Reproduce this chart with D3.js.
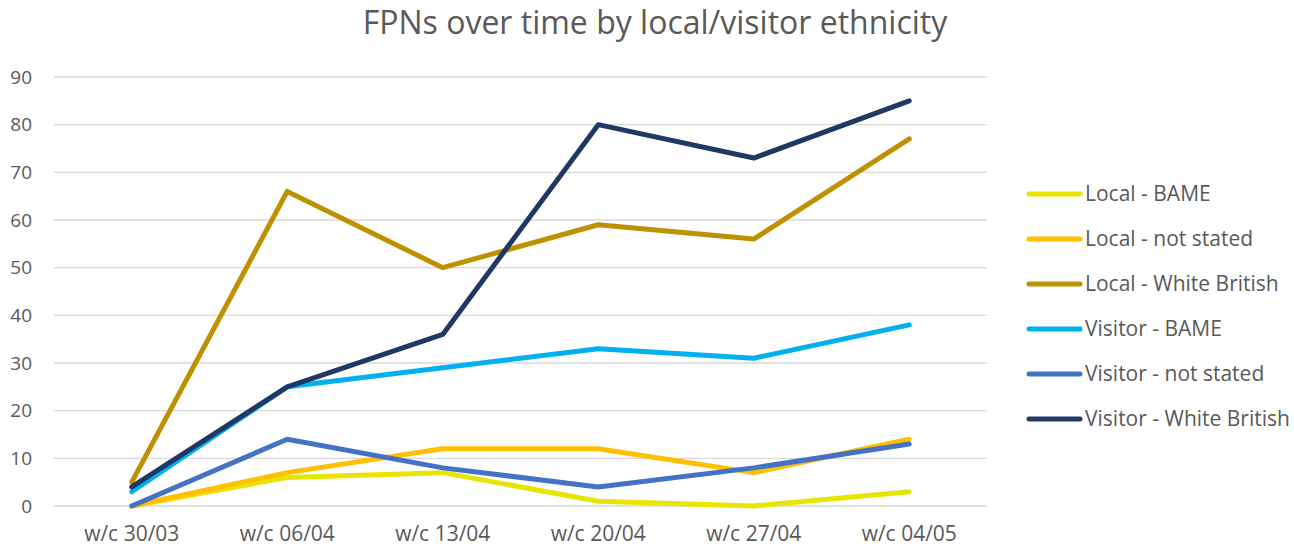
<!DOCTYPE html>
<html lang="en">
<head>
<meta charset="UTF-8">
<title>FPNs over time</title>
<script src="https://d3js.org/d3.v7.min.js"></script>
<style>
  body { margin: 0; background: #fff; }
  text { font-family: "Open Sans", sans-serif; fill: #595959; }
</style>
</head>
<body>
<div id="chart"></div>
<script>
// chart data
var weeks = ["w/c 30/03", "w/c 06/04", "w/c 13/04", "w/c 20/04", "w/c 27/04", "w/c 04/05"];
var seriesNames = ["Local - BAME", "Local - not stated", "Local - White British",
                   "Visitor - BAME", "Visitor - not stated", "Visitor - White British"];
var localBame = [0, 6, 7, 1, 0, 3];
var localNotStated = [0, 7, 12, 12, 7, 14];
var localWhiteBritish = [5, 66, 50, 59, 56, 77];
var visitorBame = [3, 25, 29, 33, 31, 38];
var visitorNotStated = [0, 14, 8, 4, 8, 13];
var visitorWhiteBritish = [4, 25, 36, 80, 73, 85];
var yTicks = [0, 10, 20, 30, 40, 50, 60, 70, 80, 90];
var colors = ["#E8E500", "#FFC000", "#BF9000", "#00B0F0", "#4472C4", "#1F3864"];

var allSeries = [localBame, localNotStated, localWhiteBritish, visitorBame, visitorNotStated, visitorWhiteBritish];

var W = 1294, H = 551;
var margin = {top: 77, left: 54, right: 307, bottom: 45};
var width = W - margin.left - margin.right;
var height = H - margin.top - margin.bottom;

var svg = d3.select("#chart").append("svg")
    .attr("width", W)
    .attr("height", H);

// title
svg.append("text")
    .attr("x", 655)
    .attr("y", 34)
    .attr("text-anchor", "middle")
    .style("font-size", "32px")
    .text("FPNs over time by local/visitor ethnicity");

var g = svg.append("g")
    .attr("transform", "translate(" + margin.left + "," + margin.top + ")");

var x = d3.scaleBand()
    .domain(weeks)
    .range([0, width]);

var y = d3.scaleLinear()
    .domain([0, 90])
    .range([height, 0]);

// gridlines
g.append("g")
    .selectAll("line")
    .data(yTicks)
    .enter()
    .append("line")
        .attr("x1", 0)
        .attr("x2", width)
        .attr("y1", function (d) {return y(d)})
        .attr("y2", function (d) {return y(d)})
        .attr("stroke", "#d9d9d9")
        .attr("stroke-width", 1.3);

// y axis labels
var yAxis = g.append("g")
    .call(d3.axisLeft(y).tickValues(yTicks).tickSize(0).tickPadding(22));
yAxis.select(".domain").remove();
yAxis.selectAll("text").style("font-size", "19px").style("fill", "#595959");

// x axis labels
var xAxis = g.append("g")
    .attr("transform", "translate(0," + height + ")")
    .call(d3.axisBottom(x).tickSize(0).tickPadding(20));
xAxis.select(".domain").remove();
xAxis.selectAll("text").style("font-size", "21px").style("fill", "#595959");

// lines
var line = d3.line()
    .x(function (d, i) {return x(weeks[i]) + x.bandwidth() / 2})
    .y(function (d) {return y(d)});

g.append("g")
    .selectAll("path")
    .data(allSeries)
    .enter()
    .append("path")
        .attr("d", line)
        .attr("fill", "none")
        .attr("stroke", function (d, i) {return colors[i]})
        .attr("stroke-width", 5)
        .attr("stroke-linecap", "round")
        .attr("stroke-linejoin", "round");

// legend
var legend = svg.append("g")
    .attr("transform", "translate(1027,194)");

var rows = legend.selectAll("g")
    .data(seriesNames)
    .enter()
    .append("g")
        .attr("transform", function (d, i) {return "translate(0," + (i * 45) + ")"});

rows.append("line")
    .attr("x1", 2)
    .attr("x2", 53)
    .attr("stroke", function (d, i) {return colors[i]})
    .attr("stroke-width", 5)
    .attr("stroke-linecap", "round");

rows.append("text")
    .attr("x", 58)
    .attr("dy", "0.35em")
    .style("font-size", "21px")
    .text(function (d) {return d});
</script>
</body>
</html>
